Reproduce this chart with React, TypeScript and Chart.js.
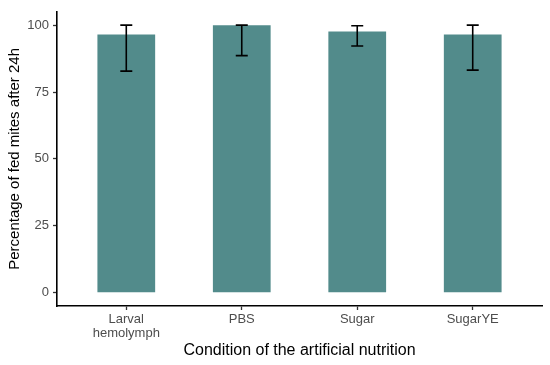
import React, { useEffect, useRef } from "react";
import { Chart, registerables } from "chart.js";

Chart.register(...registerables);

const categories: string[][] = [["Larval", "hemolymph"], ["PBS"], ["Sugar"], ["SugarYE"]];
const means: number[] = [96.5, 100, 97.6, 96.5];
const lowerErr: number[] = [82.8, 88.6, 92.2, 83.2];
const upperErr: number[] = [100, 100, 99.8, 100];
const yTicks: number[] = [0, 25, 50, 75, 100];
const yTitle = "Percentage of fed mites after 24h";
const xTitle = "Condition of the artificial nutrition";

const errorBarPlugin = {
  id: "errorBars",
  afterDatasetsDraw(chart: any) {
    const { ctx, scales } = chart;
    const xs = scales.x;
    const ys = scales.y;
    ctx.save();
    ctx.strokeStyle = "#000000";
    ctx.lineWidth = 1.6;
    ctx.lineCap = "butt";
    for (let i = 0; i < means.length; i++) {
      const x = xs.getPixelForValue(i + 1);
      const yT = ys.getPixelForValue(upperErr[i]);
      const yB = ys.getPixelForValue(lowerErr[i]);
      const hw = 6;
      ctx.beginPath();
      ctx.moveTo(x, yT);
      ctx.lineTo(x, yB);
      ctx.moveTo(x - hw, yT);
      ctx.lineTo(x + hw, yT);
      ctx.moveTo(x - hw, yB);
      ctx.lineTo(x + hw, yB);
      ctx.stroke();
    }
    ctx.restore();
  },
};

export default function App() {
  const ref = useRef<HTMLCanvasElement | null>(null);
  useEffect(() => {
    if (!ref.current) return;
    const font = "'Liberation Sans', Arial, sans-serif";
    const chart = new Chart(ref.current, {
      type: "bar",
      data: {
        datasets: [
          {
            data: means.map((v, i) => ({ x: i + 1, y: v })),
            backgroundColor: "#528B8B",
            borderWidth: 0,
            barPercentage: 0.5,
            categoryPercentage: 1,
          },
        ],
      },
      options: {
        animation: false,
        responsive: false,
        maintainAspectRatio: false,
        layout: { padding: { left: 0, right: 8, top: 9, bottom: 0 } },
        plugins: { legend: { display: false }, tooltip: { enabled: false } },
        scales: {
          x: {
            type: "linear",
            min: 0.4,
            max: 4.6,
            offset: false,
            afterBuildTicks: (axis: any) => {
              axis.ticks = categories.map((_, i) => ({ value: i + 1 }));
            },
            afterFit: (s: any) => {
              s.height = 59;
            },
            ticks: {
              callback: (v: any) => categories[Math.round(Number(v)) - 1] ?? "",
              color: "#4D4D4D",
              font: { family: font, size: 13, lineHeight: 1.1 },
              padding: 2,
              maxRotation: 0,
              autoSkip: false,
            },
            grid: {
              offset: false,
              drawOnChartArea: false,
              drawTicks: true,
              tickLength: 4,
              tickColor: "#333333",
              tickWidth: 1.3,
            },
            border: { color: "#000000", width: 1.6 },
            title: {
              display: true,
              text: xTitle,
              color: "#000000",
              font: { family: font, size: 16, lineHeight: 1.2 },
              padding: { top: 0, bottom: 5 },
            },
          },
          y: {
            type: "linear",
            min: -5,
            max: 105,
            afterBuildTicks: (axis: any) => {
              axis.ticks = yTicks.map((v) => ({ value: v }));
            },
            afterFit: (s: any) => {
              s.width = 57;
            },
            ticks: {
              color: "#4D4D4D",
              font: { family: font, size: 13 },
              padding: 4,
            },
            grid: {
              drawOnChartArea: false,
              drawTicks: true,
              tickLength: 4,
              tickColor: "#333333",
              tickWidth: 1.3,
            },
            border: { color: "#000000", width: 1.6 },
            title: {
              display: true,
              text: yTitle,
              color: "#000000",
              font: { family: font, size: 15, lineHeight: 1.2 },
              padding: { top: 6, bottom: 0 },
            },
          },
        },
      },
      plugins: [errorBarPlugin],
    } as any);
    return () => chart.destroy();
  }, []);
  return (
    <div style={{ position: "fixed", left: 0, top: 0, width: 550, height: 365, background: "#fff" }}>
      <canvas ref={ref} width={550} height={365} style={{ width: 550, height: 365 }} />
    </div>
  );
}
